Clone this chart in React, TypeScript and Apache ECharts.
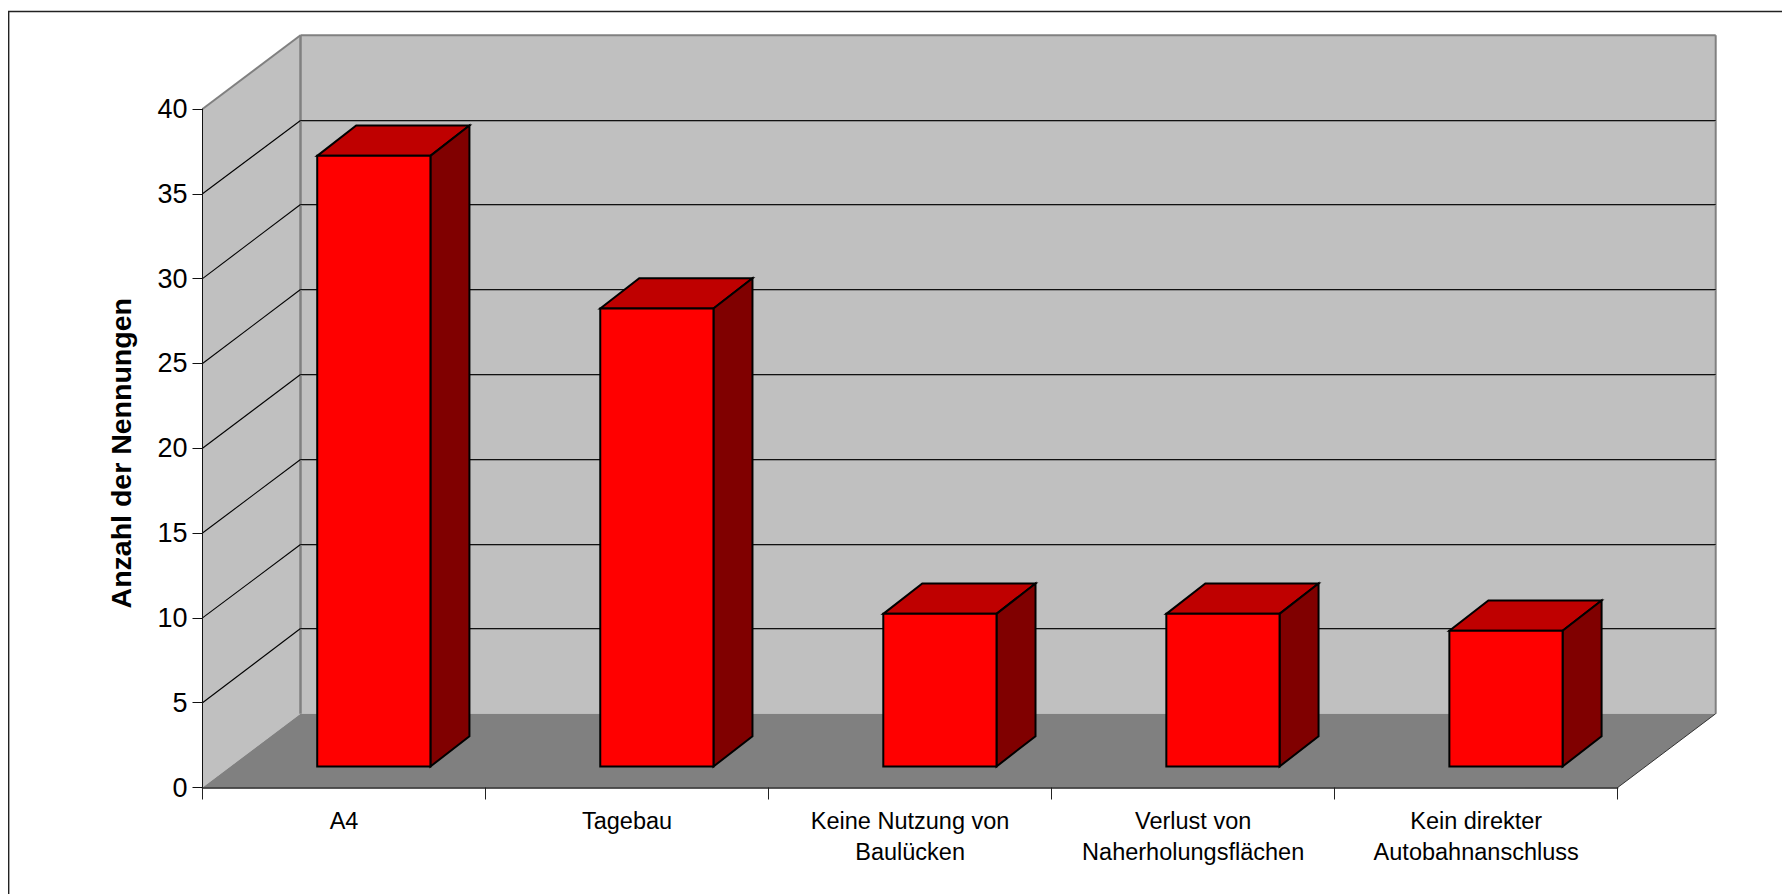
import React, { useEffect, useRef } from "react";
import * as echarts from "echarts";

const categories = [
  "A4",
  "Tagebau",
  "Keine Nutzung von\nBaulücken",
  "Verlust von\nNaherholungsflächen",
  "Kein direkter\nAutobahnanschluss",
];
const values = [36, 27, 9, 9, 8];
const gridValues = [5, 10, 15, 20, 25, 30, 35];
const yMax = 40;
const yStep = 5;
const yTitle = "Anzahl der Nennungen";

const FONT = "Liberation Sans";
const DEPTH_X = 98;
const DEPTH_Y = 73.8;
const BAR_OFF_X = 29.8;
const BAR_OFF_Y = 21;
const BAR_DX = 39;
const BAR_DY = 30.3;
const WALL = "#c0c0c0";
const FLOOR = "#808080";
const EDGE = "#808080";

const crisp = (v: number) => Math.floor(v) + 0.5;

function renderWalls(_p: any, api: any) {
  const band = api.size([1, 0])[0];
  const [cx, y0] = api.coord([0, 0]);
  const yTop = api.coord([0, yMax])[1];
  const x0 = cx - band / 2;
  const x1 = api.coord([categories.length - 1, 0])[0] + band / 2;
  const bx0 = x0 + DEPTH_X;
  const bx1 = x1 + DEPTH_X;
  const by0 = y0 - DEPTH_Y;
  const byT = yTop - DEPTH_Y;
  const line = (a: number[], b: number[], stroke: string, lineWidth: number) => ({
    type: "line",
    shape: { x1: a[0], y1: a[1], x2: b[0], y2: b[1] },
    style: { stroke, lineWidth },
  });
  return {
    type: "group",
    children: [
      { type: "polygon", shape: { points: [[bx0, byT], [bx1, byT], [bx1, by0], [bx0, by0]] }, style: { fill: WALL } },
      { type: "polygon", shape: { points: [[x0, yTop], [bx0, byT], [bx0, by0], [x0, y0]] }, style: { fill: WALL } },
      { type: "polygon", shape: { points: [[x0, y0], [bx0, by0], [bx1, by0], [x1, y0]] }, style: { fill: FLOOR } },
      line([x0, yTop], [bx0, byT], EDGE, 2),
      line([bx0, byT], [bx1, byT], EDGE, 2),
      line([bx0, byT], [bx0, by0], EDGE, 2.5),
      line([bx1, byT], [bx1, by0], EDGE, 2),
      line([x1, y0], [bx1, by0], "#333333", 1),
    ],
  };
}

function renderGrid(_p: any, api: any) {
  const band = api.size([1, 0])[0];
  const [cx, y] = api.coord([0, api.value(1)]);
  const x0 = cx - band / 2;
  const x1 = api.coord([categories.length - 1, 0])[0] + band / 2;
  const bx0 = x0 + DEPTH_X;
  const bx1 = x1 + DEPTH_X;
  const by = crisp(y - DEPTH_Y);
  return {
    type: "group",
    children: [
      { type: "line", shape: { x1: bx0, y1: by + 1, x2: bx1, y2: by + 1 }, style: { stroke: "#8c8c8c", lineWidth: 1 } },
      { type: "line", shape: { x1: bx0, y1: by, x2: bx1, y2: by }, style: { stroke: "#111111", lineWidth: 1 } },
      { type: "line", shape: { x1: x0, y1: y, x2: bx0, y2: by }, style: { stroke: "#000000", lineWidth: 1.1 } },
    ],
  };
}

function renderBar(_p: any, api: any) {
  const band = api.size([1, 0])[0];
  const w = band / 2.5;
  const [cx, yTop] = api.coord([api.value(0), api.value(1)]);
  const y0 = api.coord([api.value(0), 0])[1] - BAR_OFF_Y;
  const top = yTop - BAR_OFF_Y;
  const l = cx - w / 2 + BAR_OFF_X;
  const r = l + w;
  const st = { stroke: "#000000", lineWidth: 2, lineJoin: "miter" };
  return {
    type: "group",
    children: [
      {
        type: "polygon",
        shape: { points: [[l, top], [l + BAR_DX, top - BAR_DY], [r + BAR_DX, top - BAR_DY], [r, top]] },
        style: { fill: "#bf0000", ...st },
      },
      {
        type: "polygon",
        shape: { points: [[r, top], [r + BAR_DX, top - BAR_DY], [r + BAR_DX, y0 - BAR_DY], [r, y0]] },
        style: { fill: "#800000", ...st },
      },
      {
        type: "polygon",
        shape: { points: [[l, top], [r, top], [r, y0], [l, y0]] },
        style: { fill: "#ff0000", ...st },
      },
    ],
  };
}

export default function App() {
  const ref = useRef<HTMLDivElement>(null);
  useEffect(() => {
    const chart = echarts.init(ref.current!, null, { renderer: "svg" });
    chart.setOption({
      animation: false,
      backgroundColor: "#ffffff",
      textStyle: { fontFamily: FONT },
      grid: { left: 202.5, top: 109, width: 1415.2, height: 678.5, containLabel: false },
      xAxis: {
        type: "category",
        data: categories,
        z: 10,
        axisLine: { show: true, lineStyle: { color: "#222222", width: 1.5 } },
        axisTick: { show: true, length: 12, alignWithLabel: false, interval: 0, lineStyle: { color: "#222222", width: 1 } },
        axisLabel: {
          interval: 0,
          hideOverlap: false,
          color: "#000000",
          fontFamily: FONT,
          fontSize: 23.5,
          lineHeight: 31,
          margin: 18,
        },
        splitLine: { show: false },
      },
      yAxis: {
        type: "value",
        min: 0,
        max: yMax,
        interval: yStep,
        z: 10,
        name: yTitle,
        nameLocation: "middle",
        nameRotate: 90,
        nameGap: 67.5,
        nameTextStyle: {
          color: "#000000",
          fontFamily: FONT,
          fontSize: 28.5,
          fontWeight: "bold",
          padding: [0, 10, 0, 0],
        },
        axisLine: { show: true, lineStyle: { color: "#111111", width: 1 } },
        axisTick: { show: true, length: 10, lineStyle: { color: "#111111", width: 1 } },
        axisLabel: { color: "#000000", fontFamily: FONT, fontSize: 27, margin: 15 },
        splitLine: { show: false },
      },
      graphic: [
        {
          type: "polyline",
          z: 20,
          shape: { points: [[8.7, 894], [8.7, 11.5], [1782, 11.5]] },
          style: { stroke: "#222222", lineWidth: 1.4, fill: "none" },
        },
      ],
      series: [
        { type: "custom", z: 1, silent: true, renderItem: renderWalls, data: [[0, 0]], encode: { x: 0, y: 1 } },
        { type: "custom", z: 2, silent: true, renderItem: renderGrid, data: gridValues.map((v) => [0, v]), encode: { x: 0, y: 1 } },
        { type: "custom", z: 3, silent: true, renderItem: renderBar, data: values.map((v, i) => [i, v]), encode: { x: 0, y: 1 } },
      ],
    });
    return () => chart.dispose();
  }, []);
  return <div ref={ref} style={{ position: "absolute", left: 0, top: 0, width: 1782, height: 894 }} />;
}
